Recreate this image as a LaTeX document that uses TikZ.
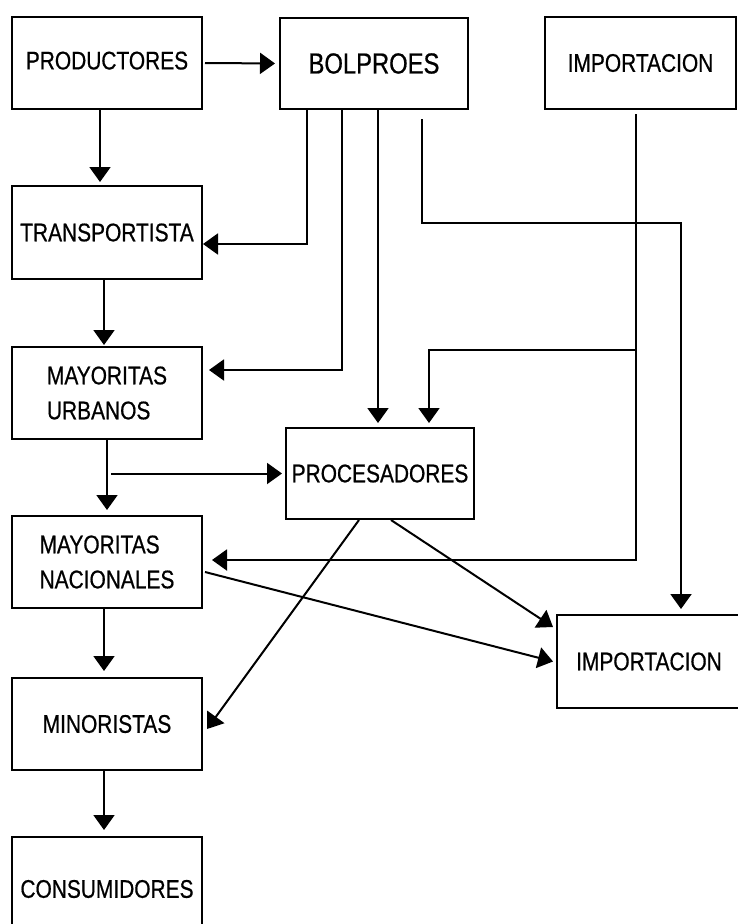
\documentclass[tikz,border=0pt]{standalone}
\usepackage{fontspec}
\setmainfont{Liberation Sans}[FakeStretch=0.82,FakeBold=0.6]
\usetikzlibrary{arrows.meta,calc}
\begin{document}
\begin{tikzpicture}[x=1pt,y=-1pt,
  box/.style={draw,line width=2pt,rectangle,inner sep=0pt,anchor=north west,
    font=\fontsize{25.5}{35}\selectfont,align=left},
  arr/.style={line width=2pt,-{Triangle[length=15pt,width=21pt]}}]
\useasboundingbox (0,0) rectangle (738,924);
\clip (0,0) rectangle (738,924);
\fill[white] (0,0) rectangle (738,924);
% boxes
\node[box,minimum width=190pt,minimum height=92pt] (prod) at (11,16) {\raisebox{5pt}{PRODUCTORES}};
\node[box,minimum width=188pt,minimum height=91pt,font=\fontsize{29}{35}\selectfont] (bol) at (279,17) {BOLPROES};
\node[box,minimum width=191pt,minimum height=92pt] (imp1) at (544,16) {IMPORTACION};
\node[box,minimum width=190pt,minimum height=93pt] (trans) at (11,185) {TRANSPORTISTA};
\node[box,minimum width=190pt,minimum height=92pt] (mayu) at (11,346) {MAYORITAS\\URBANOS};
\node[box,minimum width=188pt,minimum height=91pt] (proc) at (285,427) {PROCESADORES};
\node[box,minimum width=190pt,minimum height=92pt] (mayn) at (11,515) {MAYORITAS\\NACIONALES};
\node[box,minimum width=204pt,minimum height=93pt] (imp2) at (556,614) {\hspace*{-20pt}IMPORTACION};
\node[box,minimum width=190pt,minimum height=92pt] (mino) at (11,677) {MINORISTAS};
\node[box,minimum width=190pt,minimum height=104pt] (cons) at (11,836) {\raisebox{-8pt}{CONSUMIDORES}};
% left column
\draw[arr,shorten >=3pt] ([xshift=-7pt]prod.south) -- ([xshift=-7pt]trans.north);
\draw[arr,shorten >=1pt] ([xshift=-3pt]trans.south) -- ([xshift=-3pt]mayu.north);
\draw[arr,shorten >=5pt] (mayu.south) -- (mayn.north);
\draw[arr,shorten >=6pt] ([xshift=-3pt]mayn.south) -- ([xshift=-3pt]mino.north);
\draw[arr,shorten >=6pt] ([xshift=-3pt]mino.south) -- ([xshift=-3pt]cons.north);
% productores -> bolproes
\draw[arr,shorten >=4pt] ([xshift=2pt]prod.east) -- (bol.west);
% bolproes outputs
\coordinate (b1) at ([xshift=28pt]bol.south west);
\coordinate (b2) at ([xshift=63pt]bol.south west);
\coordinate (b3) at ([xshift=99pt]bol.south west);
\coordinate (b4) at ([xshift=143pt,yshift=-9pt]bol.south west);
\draw[arr] (b1) |- ([yshift=-11.5pt]trans.east);
\draw[arr,shorten >=6pt] (b2) |- ([yshift=23pt]mayu.east);
\draw[arr,shorten >=4pt] (b3) -- (b3 |- proc.north);
\coordinate (c1) at ([xshift=125pt]imp2.north west);
\draw[arr,shorten >=5pt] (b4) -- ++(0,104) -| (c1);
% importacion outputs
\coordinate (i1) at ([xshift=-4.5pt,yshift=-4pt]imp1.south);
\coordinate (br) at ($(i1)+(0,236)$);
\draw[arr,shorten >=9pt] (i1) |- ([yshift=2pt]mayn.east);
\draw[arr,shorten >=4pt] (br) -| ([xshift=49pt]proc.north);
% mayoristas urbanos -> procesadores
\draw[arr,shorten >=3pt] ($(mayu.south |- proc.west)+(4,0)$) -- (proc.west);
% procesadores outputs
\draw[arr] ([xshift=-21pt]proc.south) -- ([xshift=4pt,yshift=-5pt]mino.east);
\draw[arr] ([xshift=11pt]proc.south) -- ([xshift=-3pt,yshift=-13pt]imp2.north west);
% mayoristas nacionales -> importacion
\draw[arr] ([xshift=2pt,yshift=-10pt]mayn.east) -- ([xshift=-3pt]imp2.west);
\end{tikzpicture}
\end{document}
